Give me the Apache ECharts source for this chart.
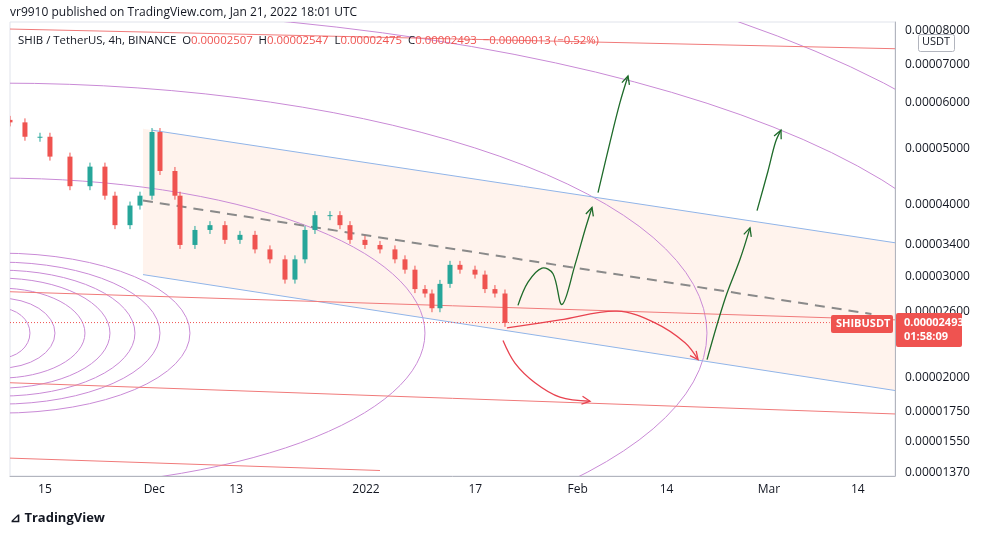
<!DOCTYPE html>
<html>
<head>
<meta charset="utf-8">
<script src="https://cdn.jsdelivr.net/npm/echarts@6/dist/echarts.min.js"></script>
<style>html,body{margin:0;padding:0;background:#fff}#myChart{width:987px;height:538px}</style>
</head>
<body>
<div id="myChart"></div>
<script>
// prices in units of 1e-5 USDT, x in days since Nov 1 2021
var candleDays = [8.88,11.07,13.27,14.73,17.66,20.59,22.78,24.25,26.45,27.91,29.67,30.84,33.03,33.77,35.96,38.16,40.35,42.55,44.75,46.94,49.14,50.60,52.07,53.53,55.73,57.19,58.66,60.85,63.05,65.24,66.71,68.17,69.64,70.66,71.83,73.30,74.76,76.96,78.42,79.88,81.35];
var candleClose = [5.55,5.24,5.24,4.84,4.30,4.65,4.14,3.68,3.98,4.14,5.34,4.57,4.14,3.40,3.61,3.68,3.47,3.54,3.34,3.21,2.96,3.21,3.61,3.83,3.83,3.68,3.47,3.40,3.34,3.21,3.08,2.85,2.80,2.64,2.91,3.14,3.08,3.02,2.85,2.80,2.49];
var xTickDays = [14,30,42,61,77,92,105,120,133];
var xTickLabels = ['15','Dec','13','2022','17','Feb','14','Mar','14'];
var yTicks = [1.37,1.55,1.75,2.0,2.6,3.0,3.4,4.0,5.0,6.0,7.0,8.0];

var channelPoly = [[28.35,5.41],[138.45,3.43],[138.45,1.90],[28.35,3.02]];
var blueLines = [[[29.67,5.38],[138.45,3.43]], [[28.35,3.02],[138.45,1.90]]];
var redLines = [[[8.88,8.06],[138.45,7.45]], [[8.88,2.82],[138.45,2.52]], [[8.88,1.96],[138.45,1.73]], [[8.88,1.45],[63.05,1.38]]];
var dashedLine = [[28.35,4.06],[135,2.58]];
var lastPrice = 2.493;

// arcs: center (day, price), radii in px
var arcCenter = [7.41, 2.39];
var arcRadii = [[30,25],[55,35],[85,45],[110,55],[135,63],[160,71],[190,80],[425,155],[707,250],[1000,325],[1100,420]];

var greenArrows = [
    [[83.25,2.67],[84.72,2.93],[86.77,3.10],[88.38,3.03],[89.70,2.68],[91.60,3.14],[93.06,3.61],[94.09,3.95]],
    [[94.97,4.19],[96.73,5.13],[98.19,6.01],[99.36,6.68]],
    [[110.93,2.15],[113.56,2.74],[115.76,3.21],[117.22,3.64]],
    [[118.25,3.90],[119.86,4.57],[120.96,5.13],[121.76,5.38]]
];
var redArrows = [
    [[81.64,2.44],[89.40,2.52],[97.75,2.61],[103.31,2.49],[107.71,2.30],[109.61,2.15]],
    [[81.06,2.32],[82.81,2.12],[85.74,1.96],[89.40,1.85],[93.80,1.82]]
];

var up = '#26a69a', down = '#ef5350', purple = '#c98ad6';

var candleData = candleDays.map(function (d, i) {
    var o = i === 0 ? candleClose[0] * 1.01 : candleClose[i - 1];
    return [d, o, candleClose[i]];
});

var series = [];
series.push({
    type: 'custom', clip: true, silent: true, z: 1,
    data: [0],
    renderItem: function (params, api) {
        return {
            type: 'polygon',
            shape: { points: channelPoly.map(function (p) { return api.coord(p); }) },
            style: { fill: 'rgba(255,228,214,0.45)' }
        };
    }
});
series.push({
    type: 'custom', clip: true, silent: true, z: 2,
    data: arcRadii,
    renderItem: function (params, api) {
        var c = api.coord(arcCenter);
        var rx = api.value(0), ry = api.value(1);
        var path = 'M' + (c[0] - rx) + ' ' + c[1] + ' A' + rx + ' ' + ry + ' 0 1 0 ' + (c[0] + rx) + ' ' + c[1] +
            ' A' + rx + ' ' + ry + ' 0 1 0 ' + (c[0] - rx) + ' ' + c[1];
        return { type: 'path', shape: { pathData: path }, style: { fill: null, stroke: purple, lineWidth: 1 } };
    }
});
function lineSeries(pts, color, type, w) {
    return { type: 'line', data: pts, symbol: 'none', silent: true, z: 3,
        lineStyle: { color: color, width: w || 1, type: type || 'solid' } };
}
blueLines.forEach(function (l) { series.push(lineSeries(l, '#90b4e8')); });
redLines.forEach(function (l) { series.push(lineSeries(l, '#f07a7a')); });
series.push(lineSeries(dashedLine, '#8a8a8a', [10, 7], 2));
series.push({
    type: 'custom', clip: true, z: 5,
    data: candleData,
    renderItem: function (params, api) {
        var d = api.value(0), o = api.value(1), c = api.value(2);
        var p1 = api.coord([d, o]), p2 = api.coord([d, c]);
        var col = c >= o ? up : down;
        var top = Math.min(p1[1], p2[1]), h = Math.max(Math.abs(p1[1] - p2[1]), 1);
        return { type: 'group', children: [
            { type: 'line', shape: { x1: p2[0], y1: top - 4, x2: p2[0], y2: top + h + 4 }, style: { stroke: col, lineWidth: 1 } },
            { type: 'rect', shape: { x: p2[0] - 2.5, y: top, width: 5, height: h }, style: { fill: col } }
        ] };
    }
});
series.push({
    type: 'line', data: [[8.88, lastPrice], [128.9, lastPrice]], symbol: 'none', silent: true, z: 4,
    lineStyle: { color: '#ef5350', width: 1, type: [1, 2] }
});
function arrowSeries(list, color) {
    return {
        type: 'custom', clip: false, silent: true, z: 6,
        data: list.map(function (a, i) { return [i]; }),
        renderItem: function (params, api) {
            var pts = list[params.dataIndex].map(function (p) { return api.coord(p); });
            var n = pts.length, e = pts[n - 1], s = pts[n - 2];
            var ang = Math.atan2(e[1] - s[1], e[0] - s[0]), L = 9;
            var a1 = [e[0] - L * Math.cos(ang - 0.45), e[1] - L * Math.sin(ang - 0.45)];
            var a2 = [e[0] - L * Math.cos(ang + 0.45), e[1] - L * Math.sin(ang + 0.45)];
            return { type: 'group', children: [
                { type: 'polyline', shape: { points: pts, smooth: 0.35 }, style: { stroke: color, lineWidth: 1.3, fill: null } },
                { type: 'polyline', shape: { points: [a1, e, a2] }, style: { stroke: color, lineWidth: 1.3, fill: null } }
            ] };
        }
    };
}
series.push(arrowSeries(greenArrows, '#1e6b2a'));
series.push(arrowSeries(redArrows, '#e8424f'));

var myChart = echarts.init(document.getElementById('myChart'));
var option = {
    animation: false,
    grid: { left: 10, right: 92, top: 22, bottom: 62, show: true, borderColor: '#e0e3eb' },
    xAxis: {
        type: 'value', min: 8.88, max: 138.45,
        axisLine: { lineStyle: { color: '#b2b5be' } },
        axisTick: { show: false },
        splitLine: { show: false },
        axisLabel: { customValues: xTickDays, color: '#131722', fontSize: 12, fontFamily: 'Open Sans',
            formatter: function (v) { var i = xTickDays.indexOf(v); return xTickLabels[i]; } }
    },
    yAxis: {
        type: 'log', position: 'right', min: 1.35, max: 8.29, logBase: 10,
        axisLine: { show: true, lineStyle: { color: '#b2b5be' } },
        axisTick: { show: false },
        splitLine: { show: false },
        axisLabel: { customValues: yTicks, color: '#131722', fontSize: 12, fontFamily: 'Open Sans', margin: 10,
            formatter: function (v) { return (v * 1e-5).toFixed(8); } }
    },
    graphic: [
        { type: 'text', left: 10, top: 7, z: 100, style: { text: 'vr9910 published on TradingView.com, Jan 21, 2022 18:01 UTC', fill: '#131722', font: '12px "Open Sans"' } },
        { type: 'text', left: 18, top: 35, z: 100, style: {
            text: '{k|SHIB / TetherUS, 4h, BINANCE  O}{v|0.00002507}{k|  H}{v|0.00002547}{k|  L}{v|0.00002475}{k|  C}{v|0.00002493}{v|  −0.00000013 (−0.52%)}',
            rich: { k: { fill: '#131722', font: '11.4px "Open Sans"' }, v: { fill: '#ef5350', font: '11.4px "Open Sans"' } } } },
        { type: 'rect', left: 918, top: 34, z: 100, shape: { width: 36, height: 17, r: 2 }, style: { fill: '#fff', stroke: '#b2b5be' } },
        { type: 'text', left: 922, top: 36, z: 101, style: { text: 'USDT', fill: '#131722', font: '11px "Open Sans"' } },
        { type: 'rect', left: 831, top: 315, z: 100, shape: { width: 62, height: 18, r: 2 }, style: { fill: '#ef5350' } },
        { type: 'text', left: 836, top: 318, z: 101, style: { text: 'SHIBUSDT', fill: '#fff', font: 'bold 11px "Open Sans"' } },
        { type: 'rect', left: 896, top: 313, z: 100, shape: { width: 66, height: 34, r: 2 }, style: { fill: '#ef5350' } },
        { type: 'text', left: 904, top: 316, z: 101, style: { text: '0.00002493\n01:58:09', fill: '#fff', font: 'bold 11px "Open Sans"', lineHeight: 14 } },
        { type: 'text', left: 10, top: 512, z: 100, style: { text: '⊿ TradingView', fill: '#131722', font: 'bold 13px "Open Sans"' } }
    ],
    series: series
};
myChart.setOption(option);
</script>
</body>
</html>
